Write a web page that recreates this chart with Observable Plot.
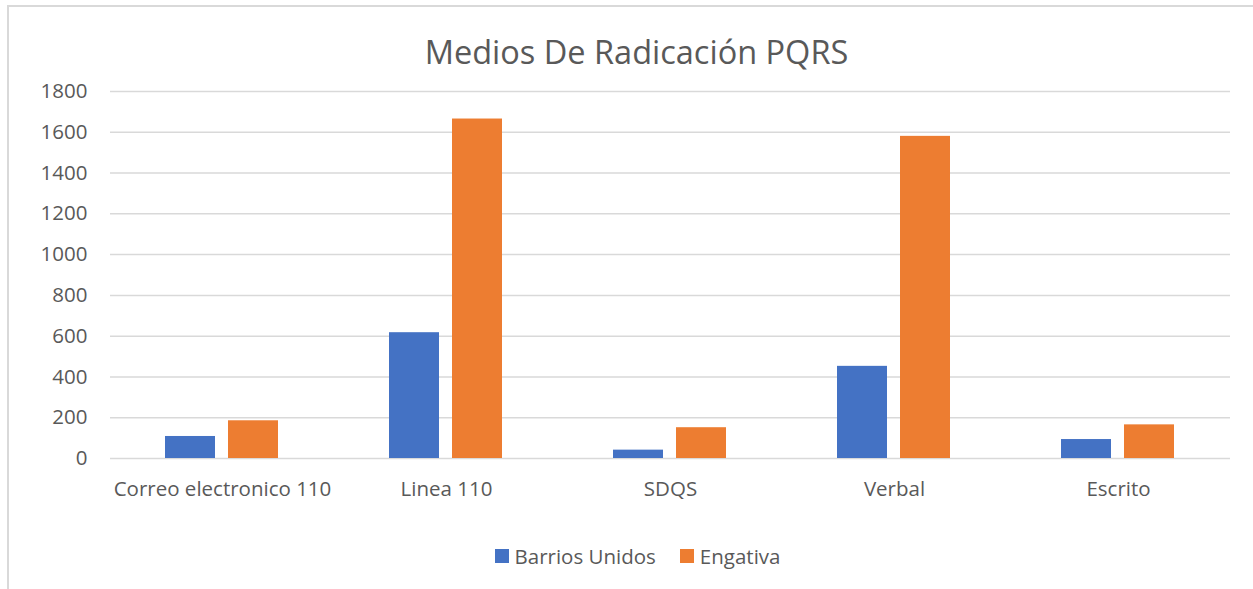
<!DOCTYPE html>
<html>
<head>
<meta charset="utf-8">
<script src="https://cdn.jsdelivr.net/npm/d3@7"></script>
<script src="https://cdn.jsdelivr.net/npm/@observablehq/plot@0.6"></script>
<style>
  html, body { margin: 0; padding: 0; background: #fff; }
  body { width: 1253px; height: 589px; overflow: hidden; position: relative; font-family: "Open Sans", sans-serif; color: #595959; }
  #frame { position: absolute; left: 7px; top: 5px; width: 1400px; height: 700px; border: 2px solid #d9d9d9; box-sizing: border-box; }
  #title { position: absolute; left: 0; width: 1273px; top: 31px; text-align: center; font-size: 32.5px; line-height: 42px; color: #595959; }
  #chart { position: absolute; left: 0; top: 70px; }
  #legend { position: absolute; left: 0; width: 1275px; top: 543px; display: flex; justify-content: center; gap: 24px; font-size: 20.5px; line-height: 26px; color: #595959; }
  .item { display: flex; align-items: center; gap: 6px; }
  .sw { width: 14px; height: 14px; display: inline-block; }
</style>
</head>
<body>
<div id="frame"></div>
<div id="title">Medios De Radicación PQRS</div>
<div id="chart"></div>
<div id="legend"></div>
<script>
const categories = ["Correo electronico 110", "Linea 110", "SDQS", "Verbal", "Escrito"];
const seriesNames = ["Barrios Unidos", "Engativa"];
const barriosUnidos = [108, 617, 41, 452, 93];
const engativa = [185, 1665, 151, 1580, 165];
const yTicks = [0, 200, 400, 600, 800, 1000, 1200, 1400, 1600, 1800];
const colors = ["#4472C4", "#ED7D31"];

const rowsA = categories.map((c, i) => ({category: c, series: seriesNames[0], value: barriosUnidos[i]}));
const rowsB = categories.map((c, i) => ({category: c, series: seriesNames[1], value: engativa[i]}));

const chart = Plot.plot({
  width: 1253,
  height: 450,
  marginLeft: 110,
  marginRight: 23,
  marginTop: 21,
  marginBottom: 62,
  style: {fontFamily: "'Open Sans', sans-serif", fontSize: "20.5px", color: "#595959", background: "transparent"},
  x: {domain: categories, padding: 0, label: null},
  y: {domain: [0, 1800], label: null},
  color: {domain: seriesNames, range: colors},
  marks: [
    Plot.ruleY(yTicks, {stroke: "#d9d9d9", strokeWidth: 1.5}),
    Plot.barY(rowsA, {x: "category", y: "value", fill: "series", insetLeft: 55, insetRight: 119}),
    Plot.barY(rowsB, {x: "category", y: "value", fill: "series", insetLeft: 118, insetRight: 56}),
    Plot.axisY({ticks: yTicks, tickFormat: d3.format("d"), tickSize: 0, tickPadding: 23, label: null, fill: "#595959"}),
    Plot.axisX({tickSize: 0, tickPadding: 23, label: null, fill: "#595959"})
  ]
});
document.getElementById("chart").appendChild(chart);

const legend = document.getElementById("legend");
seriesNames.forEach((s, i) => {
  const item = document.createElement("div");
  item.className = "item";
  const sw = document.createElement("span");
  sw.className = "sw";
  sw.style.background = colors[i];
  const t = document.createElement("span");
  t.textContent = s;
  item.appendChild(sw);
  item.appendChild(t);
  legend.appendChild(item);
});
</script>
</body>
</html>
